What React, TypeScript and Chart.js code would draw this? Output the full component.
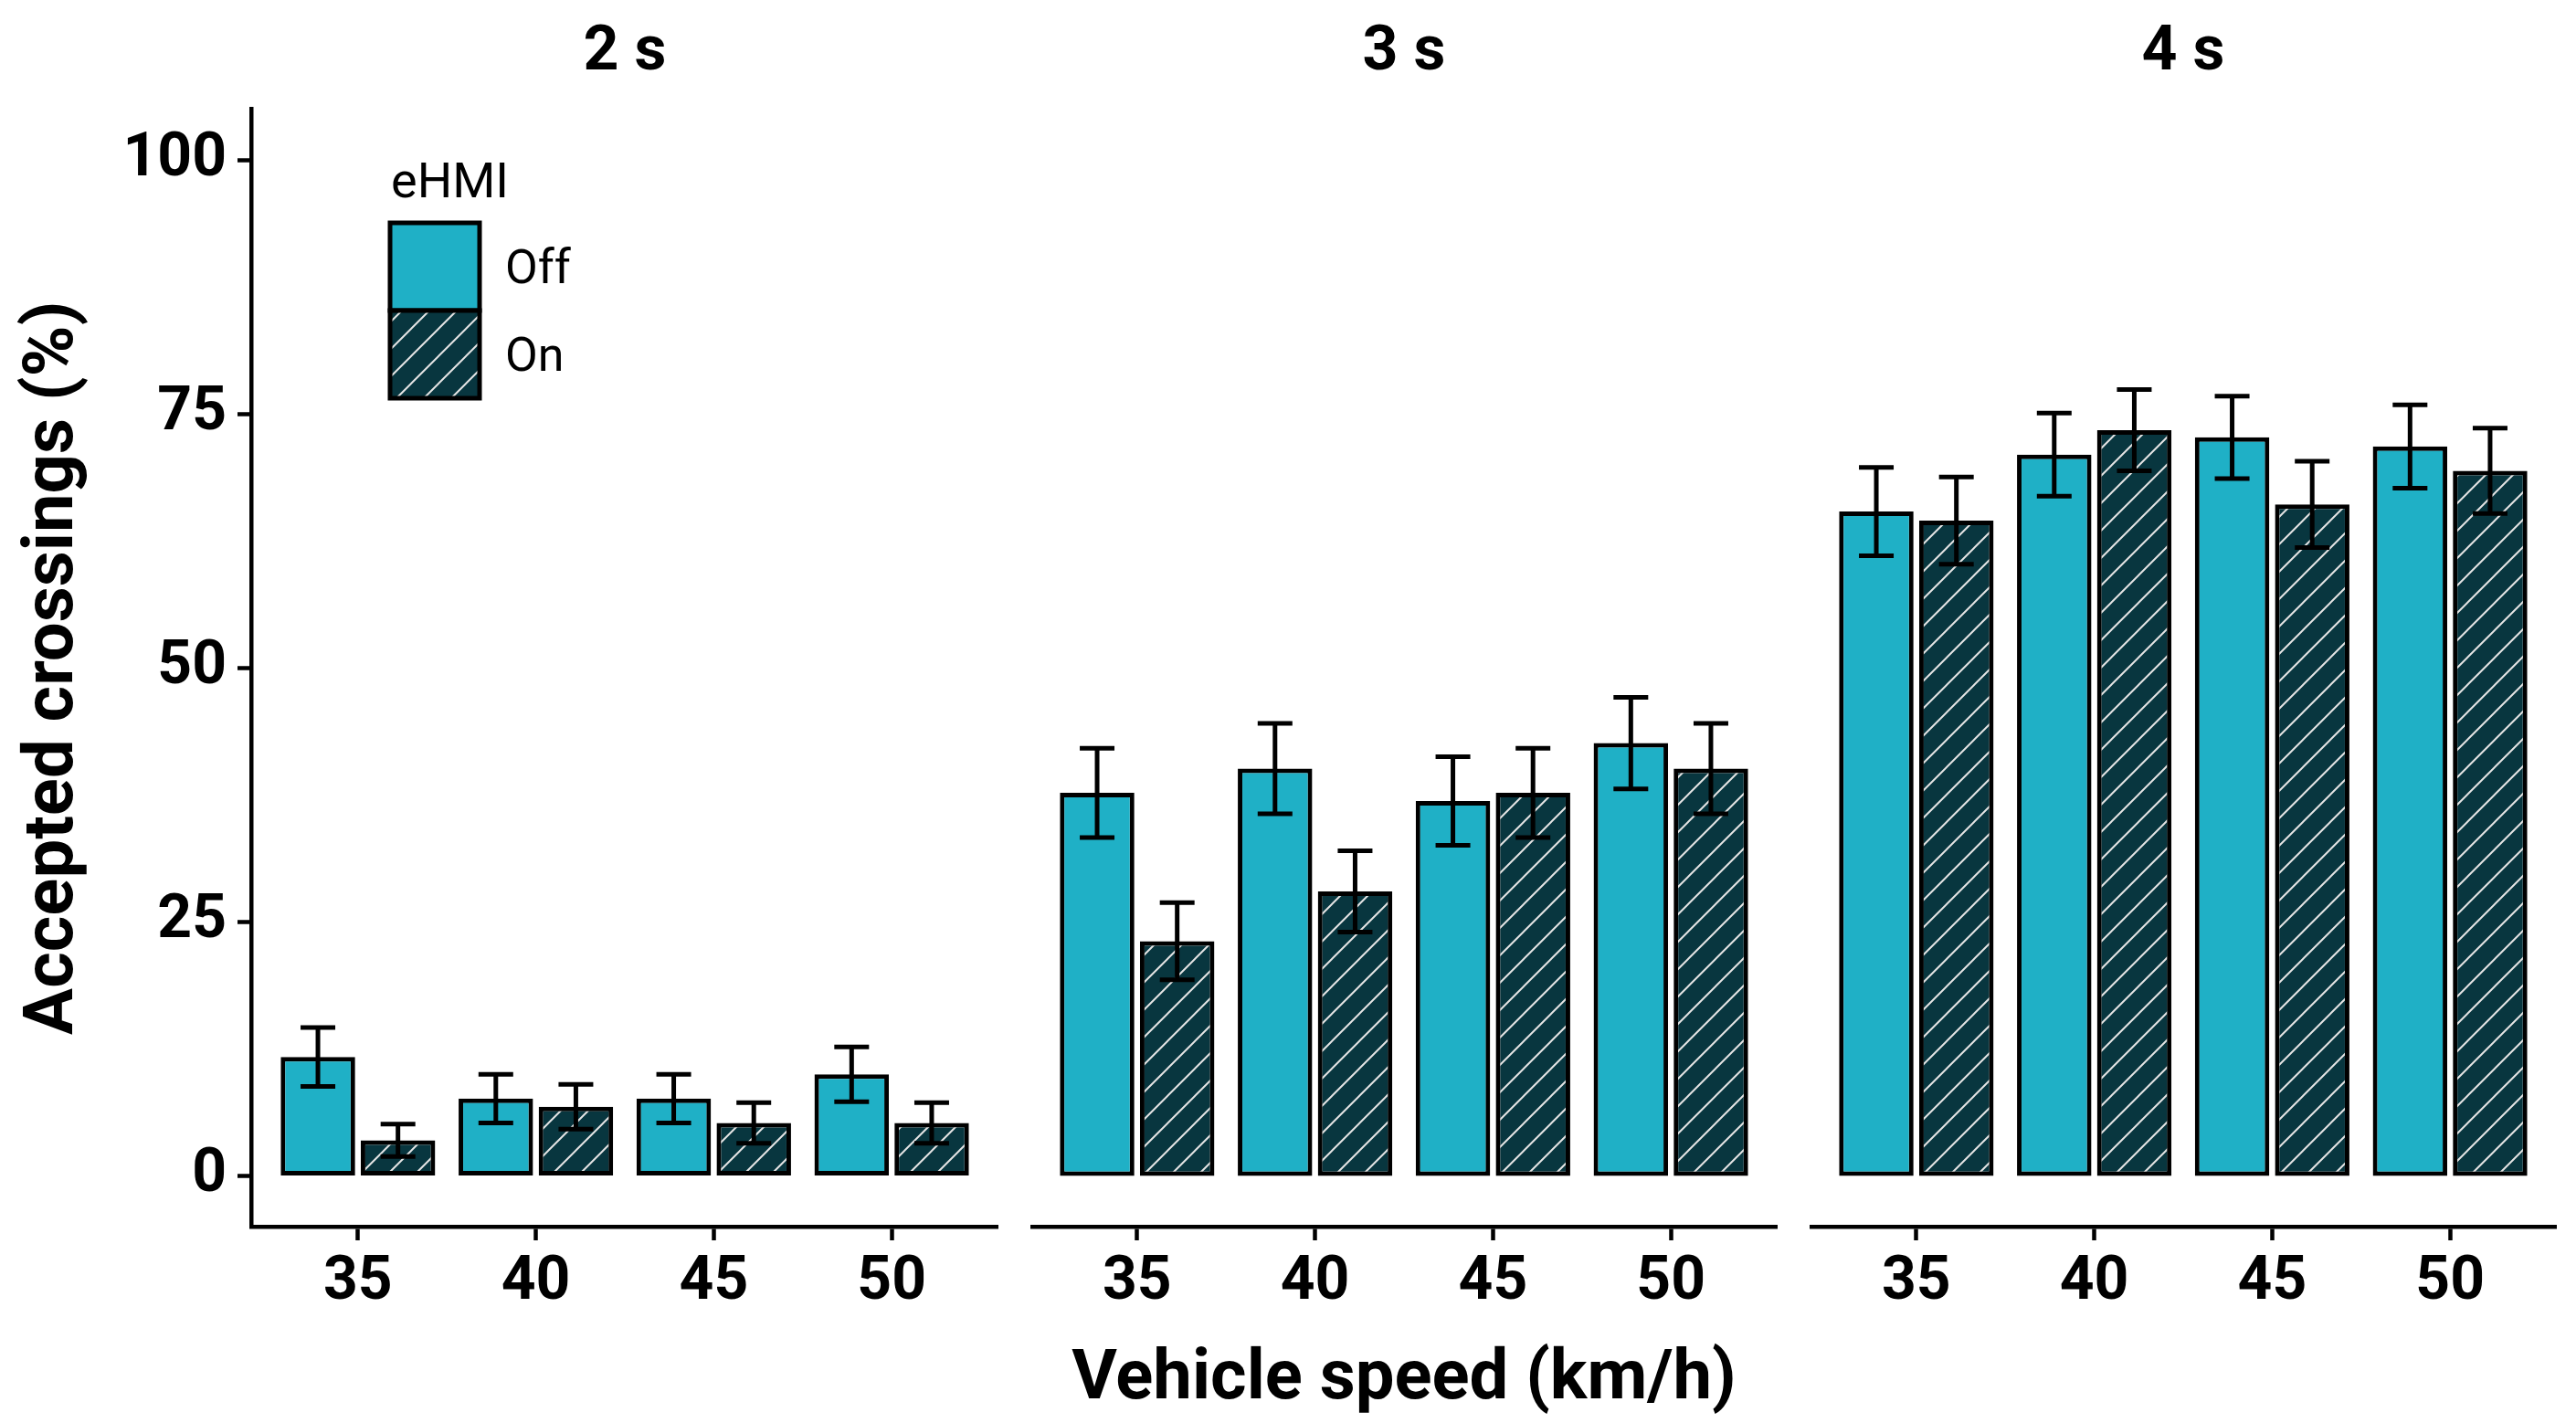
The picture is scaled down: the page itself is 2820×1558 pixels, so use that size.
import { useEffect, useRef } from "react";
import { Chart, registerables } from "chart.js";

Chart.register(...registerables);
Chart.defaults.font.family = "Roboto";
Chart.defaults.color = "#000";

const speeds = ["35", "40", "45", "50"];
const gaps = ["2 s", "3 s", "4 s"];
const series = ["Off", "On"];
const legendTitle = "eHMI";
const yTicks = [0, 25, 50, 75, 100];

// accepted crossings (%) and error bar half-widths, eHMI off / on
const off2s = [11.7, 7.6, 7.6, 10.0];
const off2sErr = [2.9, 2.4, 2.4, 2.7];
const on2s = [3.5, 6.8, 5.2, 5.2];
const on2sErr = [1.6, 2.2, 2.0, 2.0];

const off3s = [37.7, 40.1, 36.9, 42.6];
const off3sErr = [4.4, 4.45, 4.35, 4.5];
const on3s = [23.1, 28.0, 37.7, 40.1];
const on3sErr = [3.8, 4.0, 4.4, 4.45];

const off4s = [65.4, 71.0, 72.7, 71.8];
const off4sErr = [4.35, 4.1, 4.05, 4.1];
const on4s = [64.5, 73.4, 66.1, 69.4];
const on4sErr = [4.3, 4.0, 4.25, 4.2];

const OFF_COLOR = "#1fb0c6";
const ON_COLOR = "#08363f";
const H = 1558;
const Y_AXIS_W = 275;
const PLOT_W = 818;
const PLOT_LEFT = [275, 1128, 1981];

function hatch() {
  const size = 30;
  const c = document.createElement("canvas");
  c.width = size;
  c.height = size;
  const ctx = c.getContext("2d")!;
  ctx.fillStyle = ON_COLOR;
  ctx.fillRect(0, 0, size, size);
  ctx.strokeStyle = "#e4e4e4";
  ctx.lineWidth = 2;
  ctx.beginPath();
  ctx.moveTo(0, size);
  ctx.lineTo(size, 0);
  ctx.moveTo(-size / 2, size / 2);
  ctx.lineTo(size / 2, -size / 2);
  ctx.moveTo(size / 2, size * 1.5);
  ctx.lineTo(size * 1.5, size / 2);
  ctx.stroke();
  return ctx.createPattern(c, "repeat")!;
}

const errorBars = {
  id: "errorBars",
  afterDatasetsDraw(chart: any) {
    const { ctx } = chart;
    const y = chart.scales.y;
    ctx.save();
    ctx.strokeStyle = "#000";
    ctx.lineWidth = 5;
    chart.data.datasets.forEach((ds: any, i: number) => {
      chart.getDatasetMeta(i).data.forEach((bar: any, j: number) => {
        const v = ds.data[j].y;
        const top = y.getPixelForValue(v + ds.err[j]);
        const bot = y.getPixelForValue(v - ds.err[j]);
        ctx.beginPath();
        ctx.moveTo(bar.x, top);
        ctx.lineTo(bar.x, bot);
        ctx.moveTo(bar.x - 19, top);
        ctx.lineTo(bar.x + 19, top);
        ctx.moveTo(bar.x - 19, bot);
        ctx.lineTo(bar.x + 19, bot);
        ctx.stroke();
      });
    });
    ctx.restore();
  },
};

// legend placed inside the first panel, keys stacked like ggplot
const insideLegend = {
  id: "insideLegend",
  afterDraw(chart: any) {
    const { ctx } = chart;
    ctx.save();
    ctx.fillStyle = "#000";
    ctx.font = "54px Roboto";
    ctx.textBaseline = "middle";
    ctx.fillText(legendTitle, 428, 202);
    chart.data.datasets.forEach((ds: any, i: number) => {
      const top = 244 + i * 96;
      ctx.fillStyle = ds.backgroundColor;
      ctx.fillRect(427, top, 98, 96);
      ctx.strokeStyle = "#000";
      ctx.lineWidth = 5;
      ctx.strokeRect(427, top, 98, 96);
      ctx.fillStyle = "#000";
      ctx.font = "52px Roboto";
      ctx.textBaseline = "middle";
      ctx.fillText(ds.label, 553, top + 53);
    });
    ctx.restore();
  },
};

function Panel({ index, off, offErr, on, onErr }: { index: number; off: number[]; offErr: number[]; on: number[]; onErr: number[] }) {
  const canvasRef = useRef<HTMLCanvasElement>(null);
  const first = index === 0;
  const left = first ? 0 : PLOT_LEFT[index];
  const width = first ? Y_AXIS_W + PLOT_W : PLOT_W;

  useEffect(() => {
    const canvas = canvasRef.current;
    if (!canvas) return;

    const tickFont = { family: "Roboto", weight: "bold" as const, size: 66 };
    const titleFont = { family: "Roboto", weight: "bold" as const, size: 76 };
    const barStyle = {
      borderColor: "#000",
      borderWidth: 5,
      borderSkipped: false,
      categoryPercentage: 0.9,
      barPercentage: 0.93,
    };

    const chart = new Chart(canvas, {
      type: "bar",
      data: {
        datasets: [
          {
            label: series[0],
            data: off.map((v, i) => ({ x: i + 1, y: v })),
            err: offErr,
            backgroundColor: OFF_COLOR,
            ...barStyle,
          },
          {
            label: series[1],
            data: on.map((v, i) => ({ x: i + 1, y: v })),
            err: onErr,
            backgroundColor: hatch(),
            ...barStyle,
          },
        ] as any,
      },
      options: {
        responsive: true,
        maintainAspectRatio: false,
        animation: false,
        layout: { padding: 0 },
        plugins: {
          legend: { display: false },
          tooltip: { enabled: false },
          title: {
            display: true,
            text: gaps[index],
            fullSize: false,
            color: "#000",
            font: { family: "Roboto", weight: "bold", size: 68 },
            padding: { top: 18, bottom: 20 },
          },
        },
        scales: {
          x: {
            type: "linear",
            offset: false,
            min: 0.4,
            max: 4.6,
            afterBuildTicks: (axis: any) => {
              axis.ticks = speeds.map((_, i) => ({ value: i + 1 }));
            },
            afterFit: (axis: any) => {
              axis.height = 215;
            },
            border: { display: true, color: "#000", width: 4.5 },
            grid: {
              offset: false,
              drawOnChartArea: false,
              drawTicks: true,
              tickLength: 15,
              tickWidth: 4.5,
              tickColor: "#000",
            },
            ticks: {
              padding: 8,
              color: "#000",
              font: tickFont,
              callback: (value: any) => speeds[Number(value) - 1],
            },
            title: {
              display: index === 1,
              text: "Vehicle speed (km/h)",
              color: "#000",
              font: titleFont,
              padding: { top: 14, bottom: 0 },
            },
          },
          y: {
            display: first,
            min: -5,
            max: 105,
            afterBuildTicks: (axis: any) => {
              axis.ticks = yTicks.map((value) => ({ value }));
            },
            afterFit: (axis: any) => {
              axis.width = first ? Y_AXIS_W : 0;
            },
            border: { display: true, color: "#000", width: 4.5 },
            grid: { drawOnChartArea: false, drawTicks: true, tickLength: 15, tickWidth: 4.5, tickColor: "#000" },
            ticks: { padding: 12, color: "#000", font: tickFont },
            title: {
              display: true,
              text: "Accepted crossings (%)",
              color: "#000",
              font: titleFont,
              padding: { top: 14, bottom: 0 },
            },
          },
        },
      } as any,
      plugins: first ? [errorBars, insideLegend] : [errorBars],
    });

    return () => chart.destroy();
  }, [index, off, offErr, on, onErr]);

  return (
    <div style={{ position: "absolute", left, top: 0, width, height: H }}>
      <canvas ref={canvasRef} />
    </div>
  );
}

export default function App() {
  return (
    <div style={{ position: "absolute", left: 0, top: 0, width: 2820, height: H, background: "#fff" }}>
      <Panel index={0} off={off2s} offErr={off2sErr} on={on2s} onErr={on2sErr} />
      <Panel index={1} off={off3s} offErr={off3sErr} on={on3s} onErr={on3sErr} />
      <Panel index={2} off={off4s} offErr={off4sErr} on={on4s} onErr={on4sErr} />
    </div>
  );
}
